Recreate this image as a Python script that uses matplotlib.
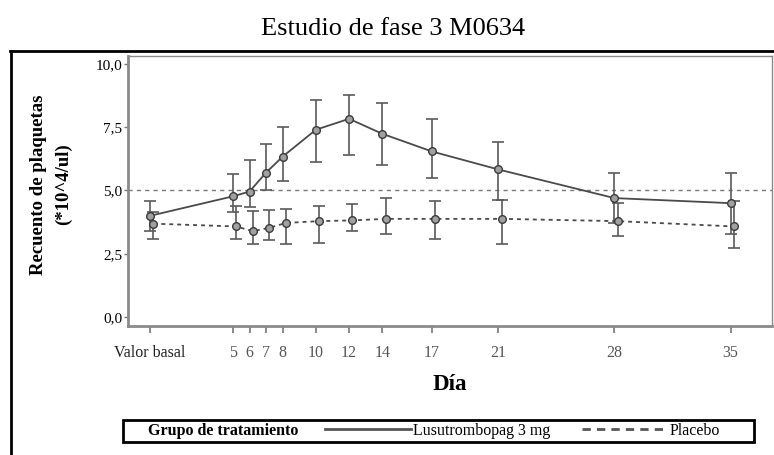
import matplotlib
matplotlib.use("Agg")
import matplotlib.pyplot as plt
from matplotlib.lines import Line2D
from matplotlib.patches import Rectangle

# ---- data ----
days = [0, 5, 6, 7, 8, 10, 12, 14, 17, 21, 28, 35]
day_labels = ["Valor basal", "5", "6", "7", "8", "10", "12", "14", "17", "21", "28", "35"]

lusu_mean = [4.00, 4.77, 4.96, 5.71, 6.34, 7.40, 7.83, 7.24, 6.54, 5.83, 4.70, 4.50]
lusu_upper = [4.60, 5.67, 6.22, 6.85, 7.52, 8.58, 8.78, 8.46, 7.83, 6.93, 5.71, 5.71]
lusu_lower = [3.40, 4.15, 4.34, 5.00, 5.39, 6.14, 6.42, 6.02, 5.51, 4.63, 3.70, 3.30]

plac_mean = [3.69, 3.58, 3.39, 3.53, 3.72, 3.79, 3.82, 3.88, 3.88, 3.88, 3.79, 3.58]
plac_upper = [4.15, 4.37, 4.18, 4.24, 4.28, 4.40, 4.48, 4.70, 4.58, 4.63, 4.50, 4.58]
plac_lower = [3.07, 3.07, 2.87, 3.03, 2.87, 2.94, 3.40, 3.27, 3.07, 2.87, 3.19, 2.74]

ref_value = 5.0
y_ticks = [0.0, 2.5, 5.0, 7.5, 10.0]

title = "Estudio de fase 3 M0634"
series_names = ["Lusutrombopag 3 mg", "Placebo"]

# ---- style ----
plt.rcParams['font.family'] = ['Liberation Serif', 'DejaVu Serif']
W, H = 774, 455
fig = plt.figure(figsize=(W / 100, H / 100), dpi=100)

ax = fig.add_axes([128 / W, 1 - 326 / H, (772 - 128) / W, (326 - 56) / H])
ax.set_xlim(-1.33, 37.5)
ax.set_ylim(-0.35, 10.31)

line_col = "#4a4a4a"
err_col = "#5a5a5a"
dodge = 0.2

ax.axhline(ref_value, color="#7a7a7a", lw=1.0, dashes=(3, 3), zorder=1)

def draw(xs, mean, lo, hi, ls_dashes, offset):
    x = [d + offset for d in xs]
    yerr = [[m - l for m, l in zip(mean, lo)], [h - m for m, h in zip(mean, hi)]]
    ax.errorbar(x, mean, yerr=yerr, fmt="none", ecolor=err_col, elinewidth=1.2,
                capsize=4.5, capthick=1.2, zorder=2)
    kw = dict(color=line_col, lw=1.3, zorder=3, marker="o", markersize=5.5,
              markerfacecolor="#a0a0a0", markeredgecolor="#3a3a3a", markeredgewidth=1.0)
    if ls_dashes is not None:
        kw["dashes"] = ls_dashes
    ax.plot(x, mean, **kw)

draw(days, lusu_mean, lusu_lower, lusu_upper, None, 0.0)
draw(days, plac_mean, plac_lower, plac_upper, (2.2, 2.2), dodge)

ax.set_xticks(days)
ax.set_xticklabels(day_labels)
ax.set_yticks(y_ticks)
ax.set_yticklabels([f"{v:.1f}".replace(".", ",") for v in y_ticks])

for t in ax.get_xticklabels():
    t.set_color("#222222" if t.get_text() == "Valor basal" else "#555555")

ax.tick_params(axis="x", direction="out", length=5, width=1.2, color="#777777",
               labelsize=11.5, pad=9)
ax.tick_params(axis="y", direction="out", length=3, width=1.0, color="#777777",
               labelsize=11, pad=1)

for s in ["left", "bottom"]:
    ax.spines[s].set_color("#8a8a8a")
    ax.spines[s].set_linewidth(2.0)
for s in ["top", "right"]:
    ax.spines[s].set_color("#8a8a8a")
    ax.spines[s].set_linewidth(1.0)

# Axis labels
fig.text(450 / W, 1 - 385 / H, "Día", ha="center", va="center",
         fontsize=16.5, fontweight="bold")
fig.text(51 / W, 0.595, "Recuento de plaquetas\n(*10^4/ul)", ha="center", va="center",
         rotation=90, fontsize=13.5, fontweight="bold", linespacing=1.55)

# Title
fig.text(393 / W, 1 - 29 / H, title, ha="center", va="center", fontsize=19)

# Outer frame (top and left lines)
fig.add_artist(Line2D([10 / W, 1.0], [1 - 51 / H, 1 - 51 / H], color="black", lw=2.0,
                      transform=fig.transFigure))
fig.add_artist(Line2D([11 / W, 11 / W], [0, 1 - 51 / H], color="black", lw=2.0,
                      transform=fig.transFigure))

# Legend box
fig.add_artist(Rectangle((123 / W, 1 - 442 / H), (754 - 123) / W, 22 / H, fill=False,
                         edgecolor="black", lw=2.0, transform=fig.transFigure))
fig.text(148 / W, 1 - 431 / H, "Grupo de tratamiento", ha="left", va="center",
         fontsize=11.5, fontweight="bold")
handles = [Line2D([], [], color="#555555", lw=2.0),
           Line2D([], [], color="#555555", lw=2.0, dashes=(3, 2.2))]
fig.legend(handles, series_names, loc="center left", bbox_to_anchor=(325 / W, 1 - 431 / H),
           ncol=2, frameon=False, fontsize=11.5, handlelength=5.4, handletextpad=0.1,
           columnspacing=2.0, borderpad=0, borderaxespad=0)

fig.savefig("out.png", dpi=100)
